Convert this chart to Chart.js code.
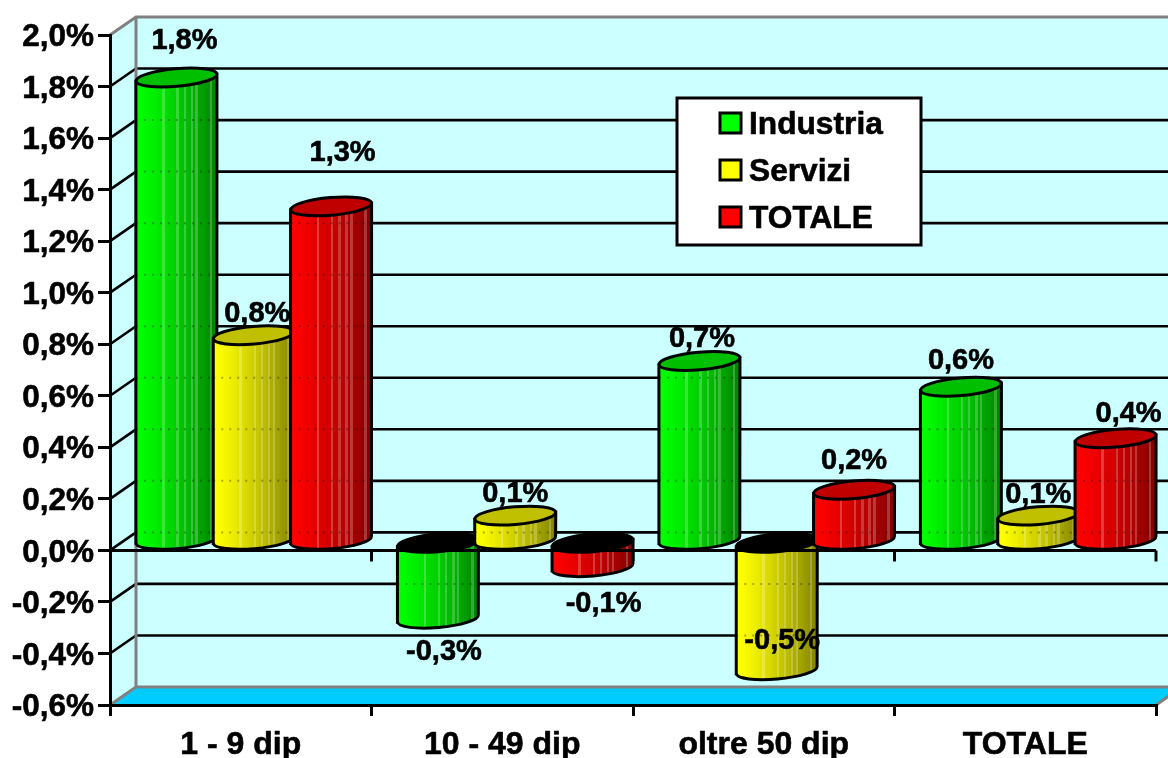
<!DOCTYPE html>
<html>
<head>
<meta charset="utf-8">
<style>
  html, body { margin: 0; background: #fff; overflow: hidden; }
  #chart { display: block; }
</style>
</head>
<body>
<canvas id="chart" width="1168" height="758"></canvas>
<script src="https://cdn.jsdelivr.net/npm/chart.js@4"></script>
<script>
const categories = ["1 - 9 dip", "10 - 49 dip", "oltre 50 dip", "TOTALE"];
const seriesNames = ["Industria", "Servizi", "TOTALE"];
const industria = [1.8, -0.3, 0.7, 0.6];
const servizi = [0.8, 0.1, -0.5, 0.1];
const totale = [1.3, -0.1, 0.2, 0.4];

const seriesRgb = [[0, 255, 0], [255, 255, 0], [255, 0, 0]];
const capColors = ["#00bf00", "#c0c000", "#c00000"];

// label offset from the bar end, per series and category
const labelNudges = [
  [[8, -37], [6, 33], [2.5, -22], [0, -26]],
  [[3.5, -21], [0, -22], [5.5, -29], [0, -21]],
  [[11.5, -53], [11, 37], [0, -29], [13, -24]]
];

const DEPTH_X = 26;
const DEPTH_Y = 18;
const LINE = 3;
const FONT = "'Liberation Sans', Arial, sans-serif";

const fmtPercent = v => v.toFixed(1).replace(".", ",") + "%";

// filled text with a thin outline, heavier than plain bold
function heavyText(ctx, text, x, y) {
  ctx.lineWidth = 0.6;
  ctx.strokeStyle = "#000";
  ctx.fillStyle = "#000";
  ctx.fillText(text, x, y);
  ctx.strokeText(text, x, y);
}

// vertical bands going darker to the right, with a few lighter streaks
function cylinderFill(ctx, left, right, rgb) {
  const bands = 34;
  const streaks = [11, 17, 20, 23, 25, 31];
  const grad = ctx.createLinearGradient(left, 0, right, 0);
  for (let i = 0; i < bands; i++) {
    const t = i / bands;
    const f = 1 - 0.5 * Math.pow(t, 1.3);
    let c = rgb.map(v => v * f);
    if (streaks.includes(i)) c = c.map(v => v + (255 - v) * 0.22);
    const col = `rgb(${c.map(Math.round).join(",")})`;
    grad.addColorStop(t, col);
    grad.addColorStop((i + 1) / bands, col);
  }
  return grad;
}

function drawCylinder(ctx, el, d, value, y) {
  const rx = el.width / 2;
  const ry = 8.8;
  const tilt = -0.087;
  const skew = rx * Math.sin(-tilt);
  const left = el.x - rx;
  const right = el.x + rx;
  const topY = Math.min(el.y, el.base);
  const botY = Math.max(el.y, el.base);

  const body = new Path2D();
  body.moveTo(left, topY + skew);
  body.lineTo(left, botY + skew);
  body.ellipse(el.x, botY, rx, ry, tilt, Math.PI, 0, true);
  body.lineTo(right, topY - skew);
  body.closePath();
  ctx.fillStyle = cylinderFill(ctx, left, right, seriesRgb[d]);
  ctx.fill(body);

  // back wall lines showing faintly through the body
  ctx.save();
  ctx.clip(body);
  ctx.strokeStyle = "rgba(0,0,0,0.3)";
  ctx.lineWidth = 2;
  ctx.setLineDash([2, 6]);
  y.ticks.forEach(t => {
    const py = y.getPixelForValue(t.value) - DEPTH_Y / 2;
    ctx.beginPath();
    ctx.moveTo(left, py);
    ctx.lineTo(right, py);
    ctx.stroke();
  });
  ctx.restore();

  ctx.strokeStyle = "#000";
  ctx.lineWidth = LINE;
  ctx.stroke(body);

  // the open end of a bar below zero shows black
  ctx.beginPath();
  ctx.ellipse(el.x, topY, rx, ry, tilt, 0, Math.PI * 2);
  ctx.fillStyle = value < 0 ? "#000" : capColors[d];
  ctx.fill();
  ctx.stroke();
}

const frame3d = {
  id: "frame3d",
  beforeDraw(chart) {
    const { ctx, chartArea: a, scales: { y } } = chart;
    const backRight = a.right + DEPTH_X;
    ctx.save();

    // back and side walls
    ctx.fillStyle = "#ccffff";
    ctx.fillRect(a.left + DEPTH_X, a.top - DEPTH_Y, backRight, a.height);
    ctx.beginPath();
    ctx.moveTo(a.left, a.top);
    ctx.lineTo(a.left + DEPTH_X, a.top - DEPTH_Y);
    ctx.lineTo(a.left + DEPTH_X, a.bottom - DEPTH_Y);
    ctx.lineTo(a.left, a.bottom);
    ctx.closePath();
    ctx.fill();

    // floor
    ctx.fillStyle = "#00ccff";
    ctx.beginPath();
    ctx.moveTo(a.left, a.bottom);
    ctx.lineTo(a.left + DEPTH_X, a.bottom - DEPTH_Y);
    ctx.lineTo(backRight, a.bottom - DEPTH_Y);
    ctx.lineTo(a.right, a.bottom);
    ctx.closePath();
    ctx.fill();

    // grid lines run along the side wall and then the back wall
    ctx.strokeStyle = "#000";
    ctx.lineWidth = 2.6;
    y.ticks.forEach(t => {
      if (t.value <= y.min || t.value >= y.max) return;
      const py = y.getPixelForValue(t.value);
      ctx.beginPath();
      ctx.moveTo(a.left, py);
      ctx.lineTo(a.left + DEPTH_X, py - DEPTH_Y);
      ctx.lineTo(backRight, py - DEPTH_Y);
      ctx.stroke();
    });

    // grey frame edges
    ctx.strokeStyle = "#808080";
    ctx.lineWidth = LINE;
    ctx.beginPath();
    ctx.moveTo(a.left, a.top);
    ctx.lineTo(a.left + DEPTH_X, a.top - DEPTH_Y);
    ctx.lineTo(backRight, a.top - DEPTH_Y);
    ctx.moveTo(a.left + DEPTH_X, a.top - DEPTH_Y);
    ctx.lineTo(a.left + DEPTH_X, a.bottom - DEPTH_Y);
    ctx.moveTo(a.left, a.bottom);
    ctx.lineTo(a.left + DEPTH_X, a.bottom - DEPTH_Y);
    ctx.lineTo(backRight, a.bottom - DEPTH_Y);
    ctx.moveTo(a.right, a.bottom);
    ctx.lineTo(backRight, a.bottom - DEPTH_Y);
    ctx.stroke();
    ctx.restore();
  },

  // replaces the flat bars, so afterDatasetsDraw never fires
  beforeDatasetsDraw(chart) {
    const { ctx, scales: { y } } = chart;
    const bars = [];
    chart.data.datasets.forEach((ds, d) => {
      chart.getDatasetMeta(d).data.forEach((el, i) => bars.push({ el, d, i, value: ds.data[i] }));
    });
    // bars below zero go in first, the rest in series order
    const ordered = [...bars.filter(b => b.value < 0), ...bars.filter(b => b.value >= 0)];

    ctx.save();
    ctx.translate(DEPTH_X / 2, -DEPTH_Y / 2);
    ordered.forEach(({ el, d, i, value }) => {
      drawCylinder(ctx, el, d, value, y);

      // a label goes right after its own bar, later bars may cover it
      const [nx, ny] = labelNudges[d][i];
      ctx.font = `bold 29px ${FONT}`;
      ctx.textAlign = "center";
      ctx.textBaseline = "middle";
      heavyText(ctx, fmtPercent(value), el.x + nx, el.y + ny);
    });
    ctx.restore();
    return false;
  },

  afterDraw(chart) {
    const { ctx, chartArea: a, scales: { x, y } } = chart;
    const zero = y.getPixelForValue(0);

    ctx.save();
    // zero axis with its own tick marks
    ctx.strokeStyle = "#000";
    ctx.lineWidth = LINE;
    ctx.beginPath();
    ctx.moveTo(a.left, zero);
    ctx.lineTo(a.right, zero);
    categories.forEach((_, i) => {
      const px = x.getPixelForValue(i) + x.width / categories.length / 2;
      ctx.moveTo(px, zero);
      ctx.lineTo(px, zero + 11);
    });
    ctx.stroke();

    // legend box
    ctx.fillStyle = "#fff";
    ctx.fillRect(677, 98, 244, 147);
    ctx.strokeRect(677, 98, 244, 147);
    ctx.textAlign = "left";
    ctx.textBaseline = "alphabetic";
    ctx.font = `bold 31.7px ${FONT}`;
    seriesNames.forEach((name, i) => {
      const cy = 123 + i * 47;
      ctx.lineWidth = LINE;
      ctx.strokeStyle = "#000";
      ctx.fillStyle = `rgb(${seriesRgb[i].join(",")})`;
      ctx.fillRect(720, cy - 10, 21, 20);
      ctx.strokeRect(720, cy - 10, 21, 20);
      heavyText(ctx, name, 749, cy + 11);
    });
    ctx.restore();
  }
};

const chart = new Chart(document.getElementById("chart"), {
  type: "bar",
  data: {
    labels: categories,
    datasets: [
      { label: seriesNames[0], data: industria },
      { label: seriesNames[1], data: servizi },
      { label: seriesNames[2], data: totale }
    ]
  },
  options: {
    responsive: false,
    animation: false,
    categoryPercentage: 0.887,
    barPercentage: 1.048,
    layout: { padding: { top: 35, right: 12, bottom: 0, left: 0 } },
    plugins: { legend: { display: false }, tooltip: { enabled: false } },
    scales: {
      x: {
        afterFit: s => { s.height = 53; },
        grid: { drawOnChartArea: false, color: "#000", lineWidth: LINE, tickLength: 11 },
        border: { display: true, color: "#000", width: LINE },
        ticks: {
          color: "#000",
          padding: 10,
          maxRotation: 0,
          textStrokeColor: "#000",
          textStrokeWidth: 0.6,
          font: { family: FONT, size: 32, weight: "bold" }
        }
      },
      y: {
        min: -0.6,
        max: 2,
        afterFit: s => { s.width = 110; },
        grid: { drawOnChartArea: false, color: "#000", lineWidth: LINE, tickLength: 12 },
        border: { display: true, color: "#000", width: LINE },
        ticks: {
          stepSize: 0.2,
          color: "#000",
          padding: 4,
          labelOffset: 2.5,
          textStrokeColor: "#000",
          textStrokeWidth: 0.6,
          font: { family: FONT, size: 31.5, weight: "bold" },
          callback: v => fmtPercent(v)
        }
      }
    }
  },
  plugins: [frame3d]
});
</script>
</body>
</html>
